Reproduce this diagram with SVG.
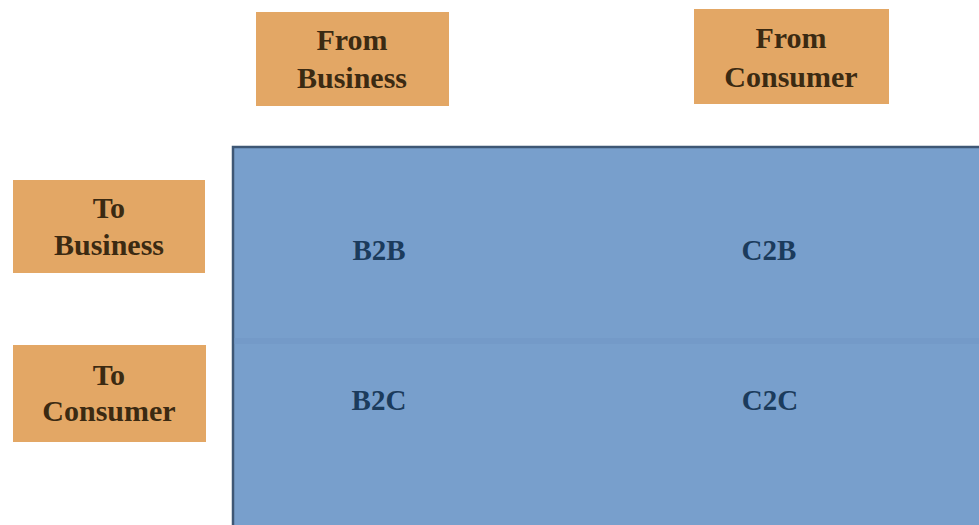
<svg xmlns="http://www.w3.org/2000/svg" width="979" height="525" viewBox="0 0 979 525">
<style>
.lbl rect{fill:#e3a765;}
.lbl text{font-family:"Liberation Serif","Times New Roman",serif;font-size:30px;font-weight:bold;fill:#3b2a12;text-anchor:middle;}
.cell text{font-family:"Liberation Serif","Times New Roman",serif;font-size:29px;font-weight:bold;fill:#1b3b5c;text-anchor:middle;}
</style>
<rect width="979" height="525" fill="#ffffff"/>
<g id="matrix">
<rect x="233" y="147" width="750" height="385" fill="#789fcc" stroke="#3e5775" stroke-width="2.5"/>
<rect x="234" y="338" width="745" height="6" fill="#6f96c3" opacity="0.5"/>
</g>
<g id="from-business" class="lbl">
<rect x="256" y="12" width="193" height="94"/>
<text x="352" y="50">From</text>
<text x="352" y="88">Business</text>
</g>
<g id="from-consumer" class="lbl">
<rect x="694" y="9" width="195" height="95"/>
<text x="791" y="48">From</text>
<text x="791" y="87">Consumer</text>
</g>
<g id="to-business" class="lbl">
<rect x="13" y="180" width="192" height="93"/>
<text x="109" y="218">To</text>
<text x="109" y="255">Business</text>
</g>
<g id="to-consumer" class="lbl">
<rect x="13" y="345" width="193" height="97"/>
<text x="109" y="385">To</text>
<text x="109" y="421">Consumer</text>
</g>
<g id="b2b" class="cell"><text x="379" y="260">B2B</text></g>
<g id="c2b" class="cell"><text x="769" y="260">C2B</text></g>
<g id="b2c" class="cell"><text x="379" y="410">B2C</text></g>
<g id="c2c" class="cell"><text x="770" y="410">C2C</text></g>
<g id="connectors"></g>
</svg>
